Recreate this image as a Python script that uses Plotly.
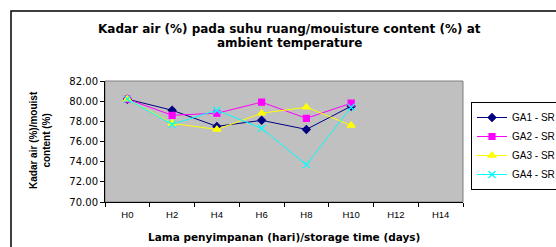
import plotly.graph_objects as go

categories = ["H0", "H2", "H4", "H6", "H8", "H10", "H12", "H14"]
days_measured = ["H0", "H2", "H4", "H6", "H8", "H10"]
ga1 = [80.2, 79.1, 77.5, 78.1, 77.2, 79.5]
ga2 = [80.2, 78.6, 78.8, 79.9, 78.3, 79.8]
ga3 = [80.2, 77.8, 77.2, 78.8, 79.4, 77.6]
ga4 = [80.2, 77.7, 79.1, 77.3, 73.7, 79.4]
series_names = ["GA1 - SR", "GA2 - SR", "GA3 - SR", "GA4 - SR"]
y_ticks = [70, 72, 74, 76, 78, 80, 82]

styles = [
    dict(color="#000080", symbol="diamond", size=6),
    dict(color="#FF00FF", symbol="square", size=6),
    dict(color="#FFFF00", symbol="triangle-up", size=7),
    dict(color="#00FFFF", symbol="x-thin-open", size=7),
]

fig = go.Figure()
for name, vals, st in zip(series_names, [ga1, ga2, ga3, ga4], styles):
    fig.add_trace(go.Scatter(
        x=days_measured, y=vals, name=name, mode="lines+markers",
        line=dict(color=st["color"], width=1),
        marker=dict(symbol=st["symbol"], size=st["size"], color=st["color"],
                    line=dict(color=st["color"], width=1.2)),
    ))

# figure wider than the 556 px window: the right part (legend end) is clipped like the reference
W, H = 640, 247
L, T, B = 105, 81, 45
PLOT_RIGHT = 463
R = W - PLOT_RIGHT
pw, ph = W - L - R, H - T - B

def px_x(p):
    return (p - L) / pw

def px_y(p):
    return (H - B - p) / ph

ARIAL = "Liberation Sans, Arial"
WIDE = "DejaVu Sans"

fig.update_layout(
    width=W, height=H,
    margin=dict(l=L, r=R, t=T, b=B, autoexpand=False),
    paper_bgcolor="white",
    plot_bgcolor="#C0C0C0",
    font=dict(family=ARIAL, size=9, color="black"),
    showlegend=True,
    legend=dict(
        x=px_x(471), y=px_y(102), xanchor="left", yanchor="top",
        bgcolor="white", bordercolor="black", borderwidth=1,
        font=dict(size=10, family=ARIAL),
        tracegroupgap=0, itemwidth=30,
    ),
    xaxis=dict(
        type="category", categoryorder="array", categoryarray=categories,
        tickvals=categories, ticktext=categories,
        range=[-0.5, 7.5], showgrid=False, zeroline=False,
        showline=True, linecolor="black", linewidth=1,
        ticks="outside", ticklen=4, tickcolor="black", tickson="boundaries",
        tickfont=dict(size=9.5, family=ARIAL), automargin=False,
        ticklabelstandoff=4,
    ),
    yaxis=dict(
        range=[70, 82], tickvals=y_ticks, tickformat=".2f",
        showgrid=False, zeroline=False,
        showline=True, linecolor="black", linewidth=1,
        ticks="outside", ticklen=4, tickcolor="black",
        tickfont=dict(size=10, family=WIDE), automargin=False,
    ),
    shapes=[
        dict(type="rect", xref="paper", yref="paper",
             x0=px_x(11), x1=px_x(900), y0=px_y(400), y1=px_y(11),
             line=dict(color="black", width=1.5), fillcolor="rgba(0,0,0,0)",
             layer="above"),
        dict(type="rect", xref="paper", yref="paper", x0=0, x1=1, y0=0, y1=1,
             line=dict(color="#808080", width=1), layer="below"),
    ],
    annotations=[
        dict(text="<b>Kadar air (%) pada suhu ruang/mouisture content (%) at</b>",
             xref="paper", yref="paper", x=px_x(289), y=px_y(29),
             xanchor="center", yanchor="middle", showarrow=False,
             font=dict(size=12, family=WIDE)),
        dict(text="<b>ambient temperature</b>",
             xref="paper", yref="paper", x=px_x(289), y=px_y(43),
             xanchor="center", yanchor="middle", showarrow=False,
             font=dict(size=12, family=WIDE)),
        dict(text="<b>Kadar air (%)/mouist<br>content (%)</b>",
             xref="paper", yref="paper", x=px_x(40), y=px_y(140),
             xanchor="center", yanchor="middle", showarrow=False, textangle=-90,
             font=dict(size=10, family=ARIAL)),
        dict(text="<b>Lama penyimpanan (hari)/storage time (days)</b>",
             xref="paper", yref="paper", x=px_x(284), y=px_y(237),
             xanchor="center", yanchor="middle", showarrow=False,
             font=dict(size=10.5, family=WIDE)),
    ],
)

fig.write_html(
    "out.html",
    config={"displayModeBar": False},
    post_script="document.body.style.margin='0';document.body.style.overflow='hidden';document.documentElement.style.overflow='hidden';",
)
